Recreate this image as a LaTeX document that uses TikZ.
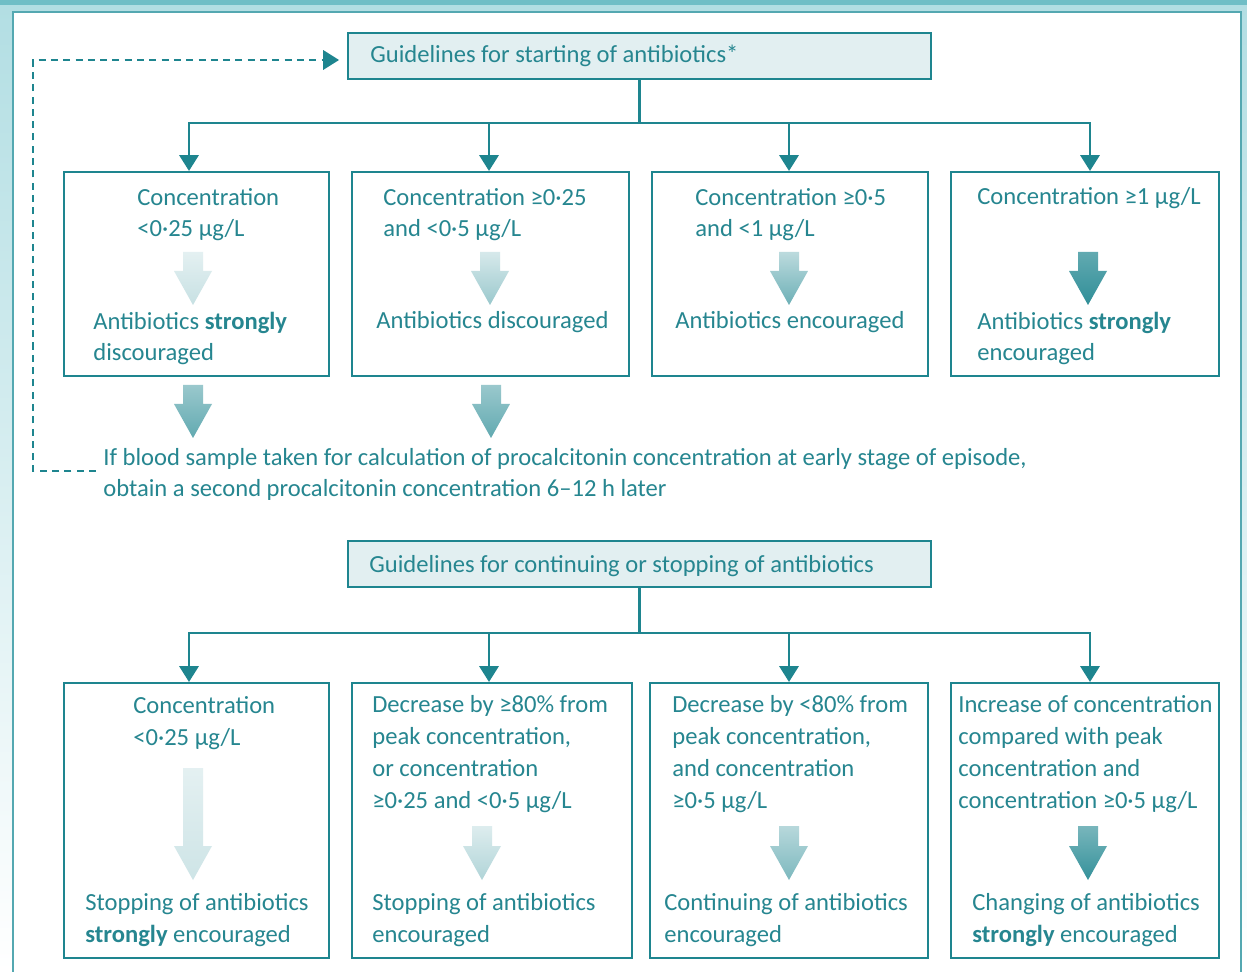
\documentclass[tikz,border=0pt]{standalone}
\usepackage{fontspec}
\setmainfont{Carlito}
\usepackage{xcolor}
\usepackage{tikz}
\usetikzlibrary{arrows.meta,fit}

\definecolor{tealc}{RGB}{30,133,143}
\definecolor{tealtxt}{RGB}{38,134,144}
\definecolor{headfill}{RGB}{226,239,241}
\definecolor{framec}{RGB}{84,168,177}
\definecolor{bandc}{RGB}{112,190,198}
\definecolor{bgc}{RGB}{178,222,227}

\newcommand{\fs}{\fontsize{14}{18.1}\selectfont}
% block arrow: x, top, tip, top colour, bottom colour
\newcommand{\blkarrow}[5]{%
  \shade[top color=#4, bottom color=#5]
    (#1-10,#2) -- (#1+10,#2) -- (#1+10,#3-34) -- (#1+19,#3-34)
    -- (#1,#3) -- (#1-19,#3-34) -- (#1-10,#3-34) -- cycle;}

\tikzset{
  box/.style={draw=tealc, line width=1.2pt, inner sep=0pt},
  headbox/.style={box, fill=headfill},
  txt/.style={text=tealtxt, font=\fs, inner sep=0pt, align=left, anchor=base west},
  conn/.style={draw=tealc, line width=1.2pt, -{Triangle[width=11pt,length=9pt]}},
  dashconn/.style={conn, dash pattern=on 4pt off 3pt},
}

\begin{document}
\begin{tikzpicture}[x=0.02cm, y=-0.02cm]
  \useasboundingbox (0,0) rectangle (1247,972);
  % background and frame
  \shade[top color=bgc, bottom color=white] (0,0) rectangle (1247,972);
  \fill[bandc] (0,0) rectangle (1247,5);
  \fill[white] (13,12) rectangle (1241,972);
  \draw[framec, line width=1.6pt] (13,972) -- (13,12) -- (1241,12) -- (1241,972);

  % starting of antibiotics
  \node[headbox, fit={(348,33) (931,79)}] (h1) {};
  \node[txt] (h1t) at (370,63) {Guidelines for starting of antibiotics*};

  \node[box, fit={(64,172) (329,376)}] (s1) {};
  \node[box, fit={(352,172) (629,376)}] (s2) {};
  \node[box, fit={(652,172) (928,376)}] (s3) {};
  \node[box, fit={(951,172) (1219,376)}] (s4) {};

  \coordinate (d1) at (189,123);
  \coordinate (d2) at (489,123);
  \coordinate (d3) at (789,123);
  \coordinate (d4) at (1090,123);
  \foreach \i in {1,...,4}
    \draw[conn] (h1.south) |- (d\i) -- (d\i |- s\i.north);

  % base anchor = last line
  \node[txt] (s1a) at (137,237) {Concentration\\<0·25 μg/L};
  \node[txt] (s1b) at (93,361) {Antibiotics \textbf{strongly}\\discouraged};
  \node[txt] (s2a) at (383,237) {Concentration ≥0·25\\and <0·5 μg/L};
  \node[txt] (s2b) at (376,329) {Antibiotics discouraged};
  \node[txt] (s3a) at (695,237) {Concentration ≥0·5\\and <1 μg/L};
  \node[txt] (s3b) at (675,329) {Antibiotics encouraged};
  \node[txt] (s4a) at (977,205) {Concentration ≥1 μg/L};
  \node[txt] (s4b) at (977,361) {Antibiotics \textbf{strongly}\\encouraged};

  \blkarrow{193}{252}{305}{white!88!tealc}{white!75!tealc}
  \blkarrow{490}{252}{305}{white!82!tealc}{white!55!tealc}
  \blkarrow{789}{252}{305}{white!70!tealc}{white!35!tealc}
  \blkarrow{1088}{252}{305}{white!30!tealc}{white!8!tealc}

  \blkarrow{193}{385}{438}{white!55!tealc}{white!30!tealc}
  \blkarrow{491}{385}{438}{white!55!tealc}{white!30!tealc}

  \node[txt] (n1) at (103,497) {If blood sample taken for calculation of procalcitonin concentration at early stage of episode,\\obtain a second procalcitonin concentration 6–12 h later};
  \coordinate (lp) at (33,60);
  \draw[dashconn, shorten <=4pt, shorten >=4.5pt] ([yshift=2pt]n1.west) -| (lp) -- (h1.west |- lp);

  % continuing or stopping
  \node[headbox, fit={(348,541) (931,587)}] (h2) {};
  \node[txt] (h2t) at (369,573) {Guidelines for continuing or stopping of antibiotics};

  \node[box, fit={(64,683) (329,958)}] (c1) {};
  \node[box, fit={(352,683) (632,958)}] (c2) {};
  \node[box, fit={(650,683) (928,958)}] (c3) {};
  \node[box, fit={(951,683) (1219,958)}] (c4) {};

  \coordinate (e1) at (189,633);
  \coordinate (e2) at (489,633);
  \coordinate (e3) at (789,633);
  \coordinate (e4) at (1090,633);
  \foreach \i in {1,...,4}
    \draw[conn] (h2.south) |- (e\i) -- (e\i |- c\i.north);

  \node[txt] (c1a) at (133,745) {Concentration\\<0·25 μg/L};
  \node[txt] (c1b) at (85,942) {Stopping of antibiotics\\\textbf{strongly} encouraged};
  \node[txt] (c2a) at (372,808) {Decrease by ≥80\% from\\peak concentration,\\or concentration\\≥0·25 and <0·5 μg/L};
  \node[txt] (c2b) at (372,942) {Stopping of antibiotics\\encouraged};
  \node[txt] (c3a) at (672,808) {Decrease by <80\% from\\peak concentration,\\and concentration\\≥0·5 μg/L};
  \node[txt] (c3b) at (664,942) {Continuing of antibiotics\\encouraged};
  \node[txt] (c4a) at (958,808) {Increase of concentration\\compared with peak\\concentration and\\concentration ≥0·5 μg/L};
  \node[txt] (c4b) at (972,942) {Changing of antibiotics\\\textbf{strongly} encouraged};

  \blkarrow{193}{768}{880}{white!88!tealc}{white!78!tealc}
  \blkarrow{482}{826}{880}{white!85!tealc}{white!65!tealc}
  \blkarrow{789}{826}{880}{white!68!tealc}{white!42!tealc}
  \blkarrow{1088}{826}{880}{white!40!tealc}{white!10!tealc}
\end{tikzpicture}
\end{document}
